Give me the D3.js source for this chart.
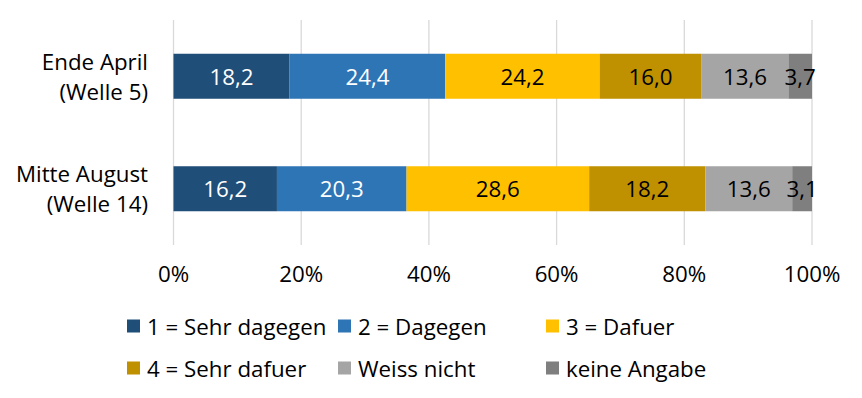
<!DOCTYPE html>
<html>
<head>
<meta charset="utf-8">
<script src="https://cdn.jsdelivr.net/npm/d3@7"></script>
<style>
  body { margin: 0; background: #fff; }
  text { font-family: "Open Sans", "Noto Sans", sans-serif; }
</style>
</head>
<body>
<div id="chart"></div>
<script>
// Data
var categories = [["Ende April", "(Welle 5)"], ["Mitte August", "(Welle 14)"]];
var seriesNames = ["1 = Sehr dagegen", "2 = Dagegen", "3 = Dafuer", "4 = Sehr dafuer", "Weiss nicht", "keine Angabe"];
var values = [
  [18.2, 24.4, 24.2, 16.0, 13.6, 3.7],
  [16.2, 20.3, 28.6, 18.2, 13.6, 3.1]
];
var ticks = [0, 0.2, 0.4, 0.6, 0.8, 1];

var colors = ["#1f4e79", "#2e75b6", "#ffc000", "#bf9000", "#a5a5a5", "#7f7f7f"];
var labelColors = ["#fff", "#fff", "#000", "#000", "#000", "#000"];

var w = 862, h = 398;
var plotL = 173.5, plotR = 812, plotT = 20, plotB = 245;
var fs = 22.3;

var svg = d3.select("#chart").append("svg")
  .attr("width", w)
  .attr("height", h);

var x = d3.scaleLinear().domain([0, 1]).range([plotL, plotR]);
var y = d3.scaleBand().domain(d3.range(categories.length))
  .range([plotT, plotB]).paddingInner(0.6).paddingOuter(0.3);

// gridlines
svg.selectAll("line.grid")
  .data(ticks)
  .enter()
  .append("line")
    .attr("x1", function(d) { return x(d); })
    .attr("x2", function(d) { return x(d); })
    .attr("y1", plotT)
    .attr("y2", plotB)
    .attr("stroke", "#d9d9d9")
    .attr("stroke-width", 1.3);

// tick labels
svg.selectAll("text.tick")
  .data(ticks)
  .enter()
  .append("text")
    .attr("x", function(d) { return x(d); })
    .attr("y", 273)
    .attr("text-anchor", "middle")
    .attr("dominant-baseline", "central")
    .attr("font-size", fs)
    .attr("fill", "#000")
    .text(function(d) { return Math.round(d * 100) + "%"; });

// stacked bars
values.forEach(function(row, r) {
  var total = d3.sum(row);
  var cum = 0;
  var segs = row.map(function(v, i) {
    var s = { i: i, v: v, x0: cum / total, x1: (cum + v) / total };
    cum += v;
    return s;
  });
  var g = svg.append("g");
  g.selectAll("rect")
    .data(segs)
    .enter()
    .append("rect")
      .attr("x", function(d) { return x(d.x0); })
      .attr("width", function(d) { return x(d.x1) - x(d.x0); })
      .attr("y", y(r))
      .attr("height", y.bandwidth())
      .attr("fill", function(d) { return colors[d.i]; });
  g.selectAll("text")
    .data(segs)
    .enter()
    .append("text")
      .attr("x", function(d) { return (x(d.x0) + x(d.x1)) / 2; })
      .attr("y", y(r) + y.bandwidth() / 2)
      .attr("text-anchor", "middle")
      .attr("dominant-baseline", "central")
      .attr("font-size", fs)
      .attr("fill", function(d) { return labelColors[d.i]; })
      .text(function(d) { return d.v.toFixed(1).replace(".", ","); });

  // category label
  var cy = y(r) + y.bandwidth() / 2;
  svg.append("text")
    .attr("text-anchor", "end")
    .attr("font-size", fs)
    .attr("fill", "#000")
    .selectAll("tspan")
    .data(categories[r])
    .enter()
    .append("tspan")
      .attr("x", 148)
      .attr("y", function(d, i) { return cy - 15 + i * 30; })
      .attr("dominant-baseline", "central")
      .text(function(d) { return d; });
});

// legend
var legX = [127, 338, 546];
var legY = [326, 368];
var legend = svg.selectAll("g.legend")
  .data(seriesNames)
  .enter()
  .append("g")
    .attr("transform", function(d, i) {
      return "translate(" + legX[i % 3] + "," + legY[Math.floor(i / 3)] + ")";
    });
legend.append("rect")
  .attr("x", 0)
  .attr("y", -6.5)
  .attr("width", 13)
  .attr("height", 13)
  .attr("fill", function(d, i) { return colors[i]; });
legend.append("text")
  .attr("x", 20)
  .attr("y", 0)
  .attr("dominant-baseline", "central")
  .attr("font-size", fs)
  .attr("fill", "#000")
  .text(function(d) { return d; });
</script>
</body>
</html>
